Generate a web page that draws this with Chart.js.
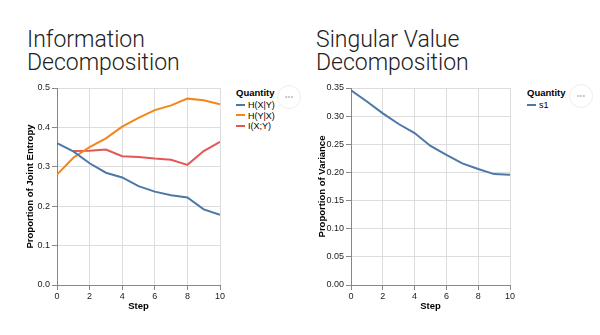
<!DOCTYPE html>
<html>
<head>
<meta charset="utf-8">
<script src="https://cdn.jsdelivr.net/npm/chart.js@4"></script>
<style>
  body { margin: 0; background: #fff; width: 600px; height: 335px; position: relative; overflow: hidden; font-family: "Liberation Sans", Arial, sans-serif; }
  .title { position: absolute; font-family: Roboto, "Open Sans", sans-serif; font-weight: 300; font-size: 23px; line-height: 23px; color: #222; }
  .wrap { position: absolute; }
  .legend { position: absolute; font-size: 9px; color: #000; }
  .legend .head { font-weight: bold; font-size: 9.5px; margin-bottom: 2px; }
  .legend .item { height: 10.5px; line-height: 10.5px; white-space: nowrap; }
  .legend .sw { display: inline-block; width: 9px; height: 2px; vertical-align: middle; margin-right: 3px; position: relative; top: -1px; }
  .dots { position: absolute; width: 24px; height: 24px; border: 1px solid #ececec; border-radius: 50%; box-sizing: border-box; color: #c4c4c4; font-size: 8px; text-align: center; line-height: 21px; }
</style>
</head>
<body>
<div class="title" style="left:27px; top:28px;">Information<br>Decomposition</div>
<div class="title" style="left:316px; top:28px;">Singular Value<br>Decomposition</div>

<div class="wrap" style="left:21px; top:78px; width:209px; height:240px;"><canvas id="left"></canvas></div>
<div class="wrap" style="left:313px; top:78px; width:207px; height:240px;"><canvas id="right"></canvas></div>

<div class="legend" id="legLeft" style="left:236px; top:87px;"></div>
<div class="legend" id="legRight" style="left:527px; top:87px;"></div>
<div class="dots" style="left:277px; top:85px;">•••</div>
<div class="dots" style="left:569px; top:84px;">•••</div>

<script>
const steps = [0, 1, 2, 3, 4, 5, 6, 7, 8, 9, 10];
const hXgivenY = [0.360, 0.339, 0.309, 0.285, 0.273, 0.251, 0.237, 0.228, 0.222, 0.192, 0.178];
const hYgivenX = [0.280, 0.323, 0.350, 0.372, 0.402, 0.424, 0.444, 0.456, 0.473, 0.469, 0.459];
const iXY = [null, 0.340, 0.341, 0.344, 0.327, 0.325, 0.321, 0.318, 0.305, 0.340, 0.363];
const s1 = [0.346, 0.326, 0.305, 0.286, 0.270, 0.247, 0.231, 0.216, 0.206, 0.197, 0.196];

const leftNames = ['H(X|Y)', 'H(Y|X)', 'I(X;Y)'];
const rightNames = ['s1'];
const colors = ['#4c78a8', '#f58518', '#e45756'];

Chart.defaults.font.family = '"Liberation Sans", Arial, sans-serif';
Chart.defaults.animation = false;

function series(vals) {
  return steps.map((s, i) => ({ x: s, y: vals[i] }));
}

function makeChart(id, names, lists, yMax, yStep, yDecimals, yTitle, yWidth) {
  const datasets = names.map((n, i) => ({
    label: n,
    data: series(lists[i]),
    borderColor: colors[i],
    borderWidth: 2,
    pointRadius: 0,
    tension: 0,
    fill: false
  }));
  new Chart(document.getElementById(id), {
    type: 'line',
    data: { datasets: datasets },
    options: {
      responsive: true,
      maintainAspectRatio: false,
      layout: { padding: { top: 10, right: 10, bottom: 2, left: 0 } },
      plugins: { legend: { display: false }, tooltip: { enabled: false } },
      scales: {
        x: {
          type: 'linear', min: 0, max: 10,
          ticks: { stepSize: 2, color: '#222', font: { size: 9 }, padding: 1, maxRotation: 0 },
          grid: { color: '#ddd', tickColor: '#888', tickLength: 5 },
          border: { color: '#888' },
          title: { display: true, text: 'Step', color: '#000', font: { size: 9.5, weight: 'bold' }, padding: { top: 2 } },
          afterFit: s => { s.height = 31; }
        },
        y: {
          min: 0, max: yMax,
          ticks: { stepSize: yStep, color: '#222', font: { size: 9 }, padding: 2,
                   callback: v => Number(v).toFixed(yDecimals) },
          grid: { color: '#ddd', tickColor: '#888', tickLength: 5 },
          border: { color: '#888' },
          title: { display: true, text: yTitle, color: '#000', font: { size: 9.5, weight: 'bold' }, padding: { bottom: 4 } },
          afterFit: s => { s.width = yWidth; }
        }
      }
    }
  });
}

function makeLegend(id, names) {
  const el = document.getElementById(id);
  let html = '<div class="head">Quantity</div>';
  names.forEach((n, i) => {
    html += '<div class="item"><span class="sw" style="background:' + colors[i] + '"></span>' + n + '</div>';
  });
  el.innerHTML = html;
}

makeChart('left', leftNames, [hXgivenY, hYgivenX, iXY], 0.5, 0.1, 1, 'Proportion of Joint Entropy', 36);
makeChart('right', rightNames, [s1], 0.35, 0.05, 2, 'Proportion of Variance', 38);
makeLegend('legLeft', leftNames);
makeLegend('legRight', rightNames);
</script>
</body>
</html>
